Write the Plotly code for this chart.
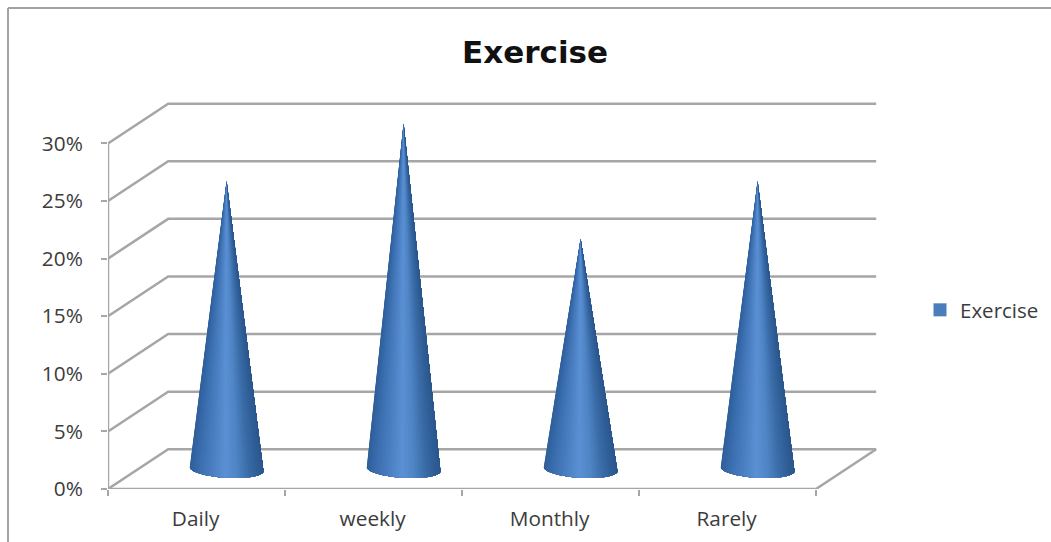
import numpy as np
import plotly.graph_objects as go
from plotly.colors import sample_colorscale

# Chart data
categories = ["Daily", "weekly", "Monthly", "Rarely"]
exercise = [0.25, 0.30, 0.20, 0.25]
y_ticks = [0, 0.05, 0.10, 0.15, 0.20, 0.25, 0.30]

# Page and plot area, in pixels
WIDTH, HEIGHT = 1051, 542
PLOT_LEFT, PLOT_RIGHT, PLOT_TOP, PLOT_BOTTOM = 108, 877, 102, 489
PX_PER_CATEGORY = 177
PX_PER_VALUE = 1152

# Oblique projection of the 3D box, in axis units
DEPTH_X = 0.34    # categories per full depth
DEPTH_Y = 0.0345  # value units per full depth
CONE_RADIUS = 0.208   # in categories
CONE_RIM = 0.0075     # half height of the base ellipse, value units
CONE_TILT = 0.0017    # base ellipse tilt, value units

GRID = "#a6a6a6"
TEXT = "#3c3c3c"
FONT = "Open Sans"

# Cone shading from the left edge to the right edge
shade = [
    [0.00, "#2f5f99"], [0.10, "#386bab"], [0.30, "#4a7fc2"], [0.48, "#5a90d4"],
    [0.62, "#5187c8"], [0.80, "#3a6ca8"], [0.93, "#2f5d95"], [1.00, "#2b578c"],
]
WEDGES = 48

fig = go.Figure()


def grid_line(xs, ys):
    fig.add_trace(go.Scatter(x=xs, y=ys, mode="lines", showlegend=False, hoverinfo="skip",
                             cliponaxis=False, line=dict(color=GRID, width=2.5)))


# Back wall and side wall grid lines
n_cat = len(categories)
for v in y_ticks:
    grid_line([0, DEPTH_X, n_cat + DEPTH_X], [v, v + DEPTH_Y, v + DEPTH_Y])

# Front edge of the floor, its right edge, and the value axis
grid_line([0, n_cat, n_cat + DEPTH_X], [0, 0, DEPTH_Y])
grid_line([0, 0], [0, max(y_ticks)])

# Cones are painted left to right: each step covers everything still to its
# right, so neighbouring colours overlap and leave no seams
angles = np.linspace(np.pi, 0, WEDGES + 1)
for k in range(WEDGES):
    t = np.linspace(angles[k], 0, max(2, WEDGES - k) + 1)
    colour = sample_colorscale(shade, [(np.cos((angles[k] + angles[k + 1]) / 2) + 1) / 2])[0]
    xs, ys = [], []
    for i, value in enumerate(exercise):
        cx = i + 0.5 + DEPTH_X / 2
        cy = DEPTH_Y / 2
        rim_x = cx + CONE_RADIUS * np.cos(t)
        rim_y = cy - CONE_RIM * np.sin(t) - CONE_TILT * np.cos(t)
        xs += [cx, *rim_x, cx, None]
        ys += [cy + value, *rim_y, cy + value, None]
    fig.add_trace(go.Scatter(x=xs, y=ys, mode="none", fill="toself", fillcolor=colour,
                             showlegend=False, hoverinfo="skip", cliponaxis=False))

# Legend entry
fig.add_trace(go.Scatter(x=[None], y=[None], mode="markers", name="Exercise",
                         marker=dict(symbol="square", size=13, color="#4a7ebb")))

# Chart frame: only its top and left edges fall inside the page
frame = dict(color="#a3a3a3", width=2)
fig.add_shape(type="line", xref="paper", yref="paper", layer="below", line=frame,
              x0=8 / WIDTH, x1=1, y0=1 - 8 / HEIGHT, y1=1 - 8 / HEIGHT)
fig.add_shape(type="line", xref="paper", yref="paper", layer="below", line=frame,
              x0=8 / WIDTH, x1=8 / WIDTH, y0=0, y1=1 - 8 / HEIGHT)

fig.update_layout(
    width=WIDTH, height=HEIGHT,
    margin=dict(l=0, r=0, t=0, b=0),
    paper_bgcolor="white", plot_bgcolor="white",
    font=dict(family=FONT, size=20.8, color=TEXT),
    title=dict(text="<b>Exercise</b>", x=535 / WIDTH, xanchor="center", y=1 - 52 / HEIGHT, yanchor="middle",
               font=dict(family="DejaVu Sans", size=31, color="#111111")),
    legend=dict(x=928 / WIDTH, xanchor="left", y=1 - 310 / HEIGHT, yanchor="middle", font=dict(size=20.5),
                indentation=-8, itemsizing="trace", bgcolor="rgba(0,0,0,0)"),
)

fig.update_xaxes(
    automargin=False,
    domain=[PLOT_LEFT / WIDTH, PLOT_RIGHT / WIDTH],
    range=[0, (PLOT_RIGHT - PLOT_LEFT) / PX_PER_CATEGORY],
    showgrid=False, zeroline=False, showline=False,
    tickmode="array", tickvals=[i + 0.495 for i in range(n_cat)], ticktext=categories,
    ticks="outside", ticklen=0, ticklabelstandoff=11,
    minor=dict(ticks="outside", tickmode="array", tickvals=list(range(n_cat + 1)),
               ticklen=6, tickwidth=2, tickcolor=GRID),
)
fig.update_yaxes(
    automargin=False,
    domain=[1 - PLOT_BOTTOM / HEIGHT, 1 - PLOT_TOP / HEIGHT],
    range=[0, (PLOT_BOTTOM - PLOT_TOP) / PX_PER_VALUE],
    showgrid=False, zeroline=False, showline=False,
    tickmode="array", tickvals=y_ticks, tickformat=".0%",
    ticks="outside", ticklen=6, tickwidth=2, tickcolor=GRID, ticklabelstandoff=14,
)

fig.write_html("out.html")
